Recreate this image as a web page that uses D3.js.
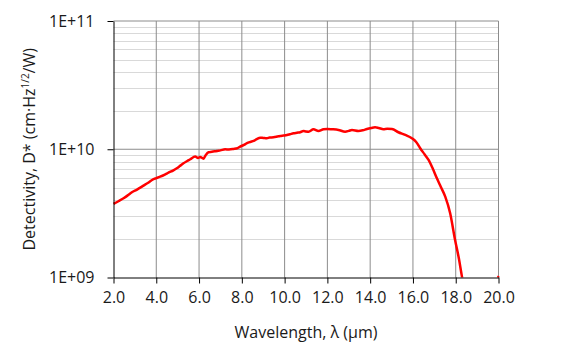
<!DOCTYPE html>
<html>
<head>
<meta charset="utf-8">
<script src="https://cdn.jsdelivr.net/npm/d3@7"></script>
<style>
  html, body { margin: 0; padding: 0; background: #fff; }
  svg { display: block; font-family: "Open Sans", sans-serif; }
</style>
</head>
<body>
<svg id="chart" width="562" height="351"></svg>
<script>
// wavelength (um) and detectivity D* (cm*Hz^1/2/W)
const wavelength = [2.00, 2.25, 2.47, 2.65, 2.86, 3.10, 3.40, 3.60, 3.87, 4.00, 4.18, 4.40, 4.57, 4.80,
  4.96, 5.10, 5.27, 5.45, 5.59, 5.82, 5.95, 6.05, 6.21, 6.30, 6.44, 6.60, 6.83, 7.00, 7.22, 7.40,
  7.61, 7.80, 7.92, 8.10, 8.24, 8.40, 8.55, 8.70, 8.86, 9.00, 9.17, 9.30, 9.48, 9.65, 9.79, 9.95,
  10.11, 10.25, 10.42, 10.58, 10.73, 10.88, 11.00, 11.12, 11.35, 11.58, 11.82, 12.00, 12.21,
  12.52, 12.83, 13.00, 13.15, 13.45, 13.65, 13.85, 14.05, 14.23, 14.40, 14.62, 14.80, 15.02,
  15.32, 15.64, 15.95, 16.15, 16.34, 16.55, 16.73, 16.92, 17.12, 17.30, 17.51, 17.74, 17.97,
  18.15, 18.29, 18.45, 19.85, 20.00]
const detectivity = [3.75e9, 3.95e9, 4.15e9, 4.35e9, 4.62e9, 4.85e9, 5.20e9, 5.45e9, 5.84e9, 5.95e9,
  6.11e9, 6.35e9, 6.57e9, 6.85e9, 7.11e9, 7.40e9, 7.78e9, 8.10e9, 8.36e9, 8.76e9, 8.55e9, 8.70e9,
  8.45e9, 8.95e9, 9.48e9, 9.55e9, 9.70e9, 9.80e9, 1.00e10, 9.95e9, 1.005e10, 1.02e10, 1.048e10,
  1.08e10, 1.114e10, 1.14e10, 1.161e10, 1.20e10, 1.231e10, 1.225e10, 1.218e10, 1.235e10, 1.240e10,
  1.255e10, 1.270e10, 1.280e10, 1.292e10, 1.310e10, 1.333e10, 1.345e10, 1.357e10, 1.389e10,
  1.375e10, 1.371e10, 1.432e10, 1.389e10, 1.432e10, 1.440e10, 1.432e10, 1.414e10, 1.371e10,
  1.390e10, 1.414e10, 1.389e10, 1.405e10, 1.439e10, 1.465e10, 1.484e10, 1.465e10, 1.432e10,
  1.445e10, 1.439e10, 1.357e10, 1.292e10, 1.218e10, 1.140e10, 1.018e10, 9.10e9, 8.25e9, 7.10e9,
  5.94e9, 5.10e9, 4.27e9, 3.17e9, 1.96e9, 1.40e9, 1.02e9, 7.5e8, 7.5e8, 1.03e9]
const xTicks = [2, 4, 6, 8, 10, 12, 14, 16, 18, 20]
const yTicks = [1e9, 1e10, 1e11]
const yTickLabels = ["1E+09", "1E+10", "1E+11"]

const svg = d3.select("#chart")
const margin = {left: 113.5, top: 21, right: 63.5, bottom: 73.5}
const width = 562 - margin.left - margin.right
const height = 351 - margin.top - margin.bottom

const x = d3.scaleLinear().domain([2, 20]).range([0, width])
const y = d3.scaleLog().domain([1e9, 1e11]).range([height, 0])

const g = svg.append("g")
    .attr("transform", `translate(${margin.left},${margin.top})`)

// minor gridlines (2..9 x each decade)
const minor = []
for (let e = 9; e < 11; e++)
    for (let k = 2; k <= 9; k++) minor.push(k * Math.pow(10, e))

g.selectAll(".minor").data(minor).join("line")
    .attr("x1", 0).attr("x2", width)
    .attr("y1", d => Math.round(y(d)) + 0.5).attr("y2", d => Math.round(y(d)) + 0.5)
    .attr("stroke", "#d9d9d9").attr("stroke-width", 1)

g.selectAll(".major").data(yTicks.slice(1)).join("line")
    .attr("x1", 0).attr("x2", width)
    .attr("y1", d => y(d)).attr("y2", d => y(d))
    .attr("stroke", "#8c8c8c").attr("stroke-width", 1)

g.selectAll(".vgrid").data(xTicks.slice(1)).join("line")
    .attr("x1", d => x(d)).attr("x2", d => x(d))
    .attr("y1", 0).attr("y2", height)
    .attr("stroke", "#8c8c8c").attr("stroke-width", 1)

// the data line, clipped to plot area
svg.append("clipPath").attr("id", "clip")
    .append("rect").attr("x", -1).attr("y", -1).attr("width", width + 2).attr("height", height + 1)

const pts = wavelength.map((w, i) => [w, detectivity[i]])
g.append("path")
    .datum(pts)
    .attr("clip-path", "url(#clip)")
    .attr("fill", "none")
    .attr("stroke", "#ff0000")
    .attr("stroke-width", 2.5)
    .attr("stroke-linejoin", "round")
    .attr("d", d3.line().x(d => x(d[0])).y(d => y(d[1])).curve(d3.curveMonotoneX))

// axes
const xAxis = g.append("g")
    .attr("transform", `translate(0,${height})`)
    .call(d3.axisBottom(x).tickValues(xTicks).tickFormat(d3.format(".1f")).tickSize(6).tickSizeOuter(0).tickPadding(8))
xAxis.select(".domain").attr("stroke", "#000")
xAxis.selectAll(".tick line").attr("stroke", "#000")
xAxis.selectAll("text").attr("font-size", 16).attr("fill", "#1a1a1a")
    .attr("font-family", "Open Sans, sans-serif")

const yAxis = g.append("g")
    .call(d3.axisLeft(y).tickValues(yTicks).tickFormat((d, i) => yTickLabels[i]).tickSize(6).tickSizeOuter(0).tickPadding(13))
yAxis.select(".domain").attr("stroke", "#000")
yAxis.selectAll(".tick line").attr("stroke", "#000")
yAxis.selectAll("text").attr("font-size", 16).attr("fill", "#1a1a1a")
    .attr("font-family", "Open Sans, sans-serif").attr("dy", "0.34em")

// axis titles
svg.append("text")
    .attr("x", margin.left + width / 2).attr("y", 338)
    .attr("text-anchor", "middle").attr("font-size", 16).attr("fill", "#1a1a1a")
    .text("Wavelength, λ (µm)")

const yt = svg.append("text")
    .attr("transform", `translate(35,${margin.top + height / 2}) rotate(-90)`)
    .attr("text-anchor", "middle").attr("font-size", 16).attr("fill", "#1a1a1a")
yt.append("tspan").text("Detectivity, D* (cm·Hz")
yt.append("tspan").attr("font-size", 10).attr("dy", -6).text("1/2")
yt.append("tspan").attr("dy", 6).text("/W)")
</script>
</body>
</html>
